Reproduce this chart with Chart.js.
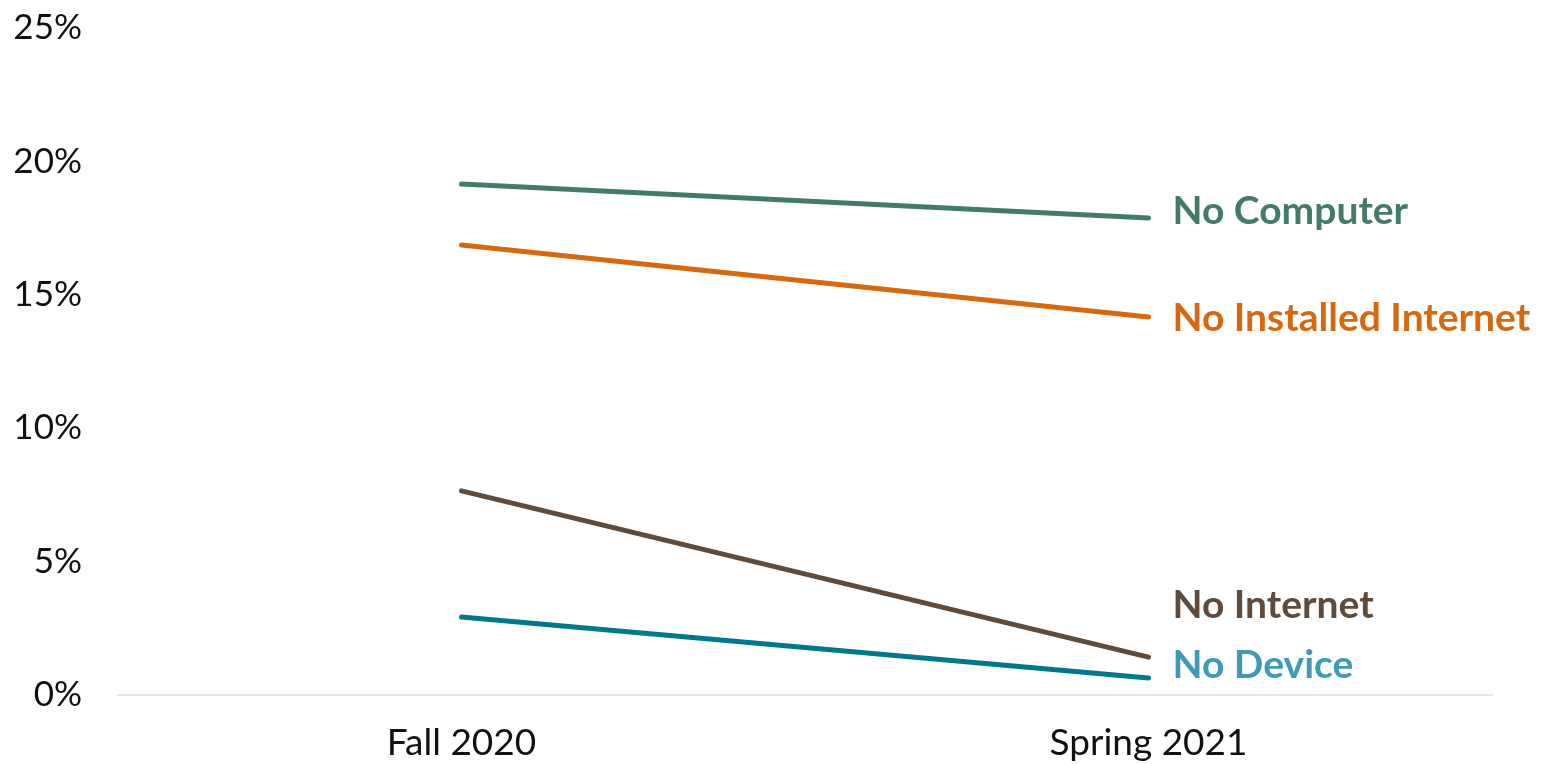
<!DOCTYPE html>
<html>
<head>
<meta charset="utf-8">
<script src="https://cdn.jsdelivr.net/npm/chart.js@4.4.1/dist/chart.umd.min.js"></script>
<style>
html,body{margin:0;padding:0;background:#fff;}
#wrap{width:1550px;height:764px;position:relative;}
</style>
</head>
<body>
<div id="wrap"><canvas id="c" width="1550" height="764"></canvas></div>
<script>
const categories = ["Fall 2020", "Spring 2021"];
const noComputer = [19.15, 17.88];
const noInstalledInternet = [16.87, 14.17];
const noInternet = [7.65, 1.42];
const noDevice = [2.92, 0.64];
const yTicks = [0, 5, 10, 15, 20, 25];

const endLabels = {
  id: 'endLabels',
  afterDatasetsDraw(chart) {
    const ctx = chart.ctx;
    const xs = chart.scales.x, ys = chart.scales.y;
    ctx.save();
    ctx.font = 'bold 39px Lato';
    ctx.textBaseline = 'middle';
    ctx.textAlign = 'left';
    chart.data.datasets.forEach(ds => {
      const x = xs.getPixelForValue(1) + 24;
      const y = ys.getPixelForValue(ds.labelAt);
      ctx.fillStyle = ds.labelColor;
      ctx.fillText(ds.label, x, y);
    });
    ctx.restore();
  }
};

new Chart(document.getElementById('c'), {
  type: 'line',
  data: {
    labels: categories,
    datasets: [
      {label: 'No Computer', data: noComputer, borderColor: '#447a68', labelColor: '#447a68', labelAt: 18.12},
      {label: 'No Installed Internet', data: noInstalledInternet, borderColor: '#d6690f', labelColor: '#d6690f', labelAt: 14.13},
      {label: 'No Internet', data: noInternet, borderColor: '#5f4b3b', labelColor: '#5f4b3b', labelAt: 3.34},
      {label: 'No Device', data: noDevice, borderColor: '#00788a', labelColor: '#3f9ab8', labelAt: 1.12}
    ].map(d => Object.assign(d, {borderWidth: 5, pointRadius: 0, fill: false, tension: 0, borderCapStyle: 'round'}))
  },
  options: {
    responsive: false,
    animation: false,
    layout: {padding: {top: 28, right: 58, bottom: 0, left: 0}},
    plugins: {legend: {display: false}, tooltip: {enabled: false}},
    scales: {
      x: {
        offset: true,
        grid: {display: false, drawTicks: false},
        border: {display: true, color: '#e4e4e4', width: 2},
        ticks: {color: '#111', font: {family: 'Lato', size: 37}, padding: 26},
        afterFit(s) { s.height = 69; s.paddingLeft = 0; s.paddingRight = 0; }
      },
      y: {
        min: 0, max: 25,
        afterBuildTicks(s) { s.ticks = yTicks.map(v => ({value: v})); },
        grid: {display: false, drawTicks: false},
        border: {display: false},
        ticks: {color: '#111', font: {family: 'Lato', size: 35}, padding: 36, callback: v => v + '%'},
        afterFit(s) { s.width = 118; s.paddingTop = 0; s.paddingBottom = 0; }
      }
    }
  },
  plugins: [endLabels]
});
</script>
</body>
</html>
